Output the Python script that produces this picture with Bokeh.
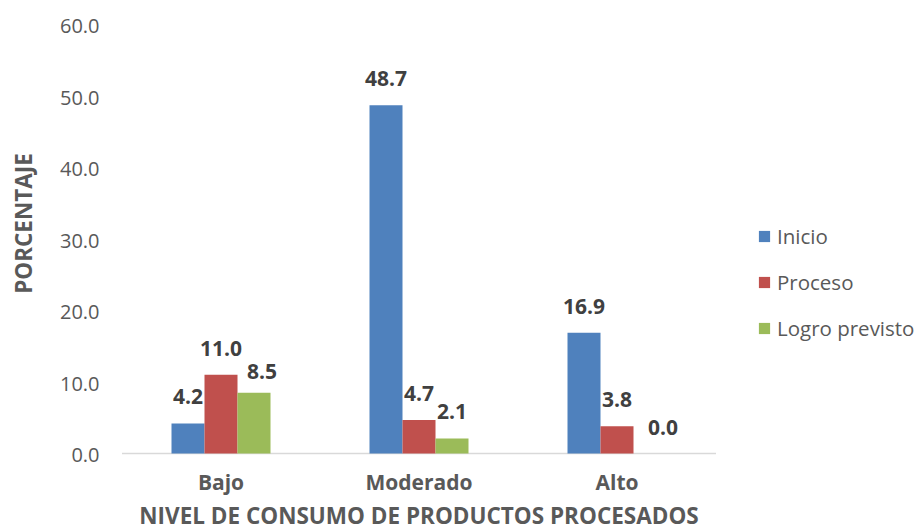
import math
from bokeh.plotting import figure
from bokeh.models import ColumnDataSource, Range1d, Legend, LegendItem, Label
from bokeh.core.properties import value
from bokeh.embed import file_html
from bokeh.resources import INLINE

categories = ["Bajo", "Moderado", "Alto"]
series_names = ["Inicio", "Proceso", "Logro previsto"]
inicio = [4.2, 48.7, 16.9]
proceso = [11.0, 4.7, 3.8]
logro = [8.5, 2.1, 0.0]
y_ticks = [0, 10, 20, 30, 40, 50, 60]
x_title = "NIVEL DE CONSUMO DE PRODUCTOS PROCESADOS"
y_title = "PORCENTAJE"

colors = ["#4F81BD", "#C0504D", "#9BBB59"]
FONT = "Open Sans"
TICK_COLOR = "#595959"
LABEL_COLOR = "#404040"

# manual data-label nudges (pixels, right / down), as in the original chart
label_nudges = {("Logro previsto", "Bajo"): (8, 5),
                ("Logro previsto", "Alto"): (13, 0)}

# layout (pixels)
W, H = 919, 531
PLOT_LEFT, PLOT_RIGHT = 121.5, 715.5
PLOT_TOP, PLOT_BOTTOM = 24.0, 453.0
Y_MAX = y_ticks[-1]

ncat = len(categories)
px_per_cat = (PLOT_RIGHT - PLOT_LEFT) / ncat
px_per_unit = (PLOT_BOTTOM - PLOT_TOP) / Y_MAX
x_start = -PLOT_LEFT / px_per_cat
x_end = (W - PLOT_LEFT) / px_per_cat
y_start = -(H - PLOT_BOTTOM) / px_per_unit
y_end = PLOT_BOTTOM / px_per_unit

p = figure(x_range=Range1d(x_start, x_end), y_range=Range1d(y_start, y_end),
           width=W, height=H, min_border=0,
           x_axis_location=None, y_axis_location=None,
           output_backend="svg", toolbar_location=None)
p.outline_line_color = None
p.grid.visible = False
p.background_fill_color = "white"
p.border_fill_color = "white"

cat_x = [i + 0.5 for i in range(ncat)]
bw = 1.0 / 6.0
offsets = [-bw, 0.0, bw]

# baseline
p.segment(x0=[0], y0=[0], x1=[ncat], y1=[0], line_color="#D9D9D9", line_width=1.5)

items = []
for name, vals, col, off in zip(series_names, [inicio, proceso, logro], colors, offsets):
    dx = [label_nudges.get((name, c), (0, 0))[0] for c in categories]
    dy = [label_nudges.get((name, c), (0, 0))[1] - 26.5 for c in categories]
    src = ColumnDataSource(dict(x=[c + off for c in cat_x], val=vals,
                                lbl=["%.1f" % v for v in vals], dx=dx, dy=dy))
    r = p.vbar(x="x", top="val", bottom=0, width=bw, source=src,
               fill_color=col, line_color=None)
    p.text(x="x", y="val", text="lbl", source=src, x_offset="dx", y_offset="dy",
           text_align="center", text_baseline="alphabetic",
           text_font=value(FONT), text_font_style="bold",
           text_font_size="21px", text_color=LABEL_COLOR)
    items.append(LegendItem(label=name, renderers=[r]))

# y tick labels
p.text(x=[x_start] * len(y_ticks), y=y_ticks,
       text=["%.1f" % t for t in y_ticks], x_offset=99, y_offset=1.5,
       text_align="right", text_baseline="alphabetic",
       text_font=value(FONT), text_font_size="20px", text_color=TICK_COLOR)

# category labels
p.text(x=cat_x, y=[0] * ncat, text=categories, y_offset=28.5,
       text_align="center", text_baseline="alphabetic",
       text_font=value(FONT), text_font_style="bold",
       text_font_size="21px", text_color=TICK_COLOR)

# axis titles
p.add_layout(Label(x=(PLOT_LEFT + PLOT_RIGHT) / 2, y=16,
                   x_units="screen", y_units="screen",
                   text=x_title, text_align="center", text_baseline="alphabetic",
                   text_font=FONT, text_font_style="bold", text_font_size="22.5px",
                   text_color=TICK_COLOR))
p.add_layout(Label(x=23, y=H - 223, x_units="screen", y_units="screen",
                   text=y_title, angle=math.pi / 2, text_align="center",
                   text_baseline="middle",
                   text_font=FONT, text_font_style="bold", text_font_size="22.5px",
                   text_color=TICK_COLOR))

legend = Legend(items=items, location=(757, H - 342), orientation="vertical",
                glyph_width=14, glyph_height=14, label_standoff=6, spacing=18,
                padding=0, margin=0, border_line_color=None,
                background_fill_alpha=0,
                label_text_font=FONT, label_text_font_size="20.5px",
                label_text_color=TICK_COLOR)
p.add_layout(legend)

open("out.html", "w").write(file_html(p, INLINE))
